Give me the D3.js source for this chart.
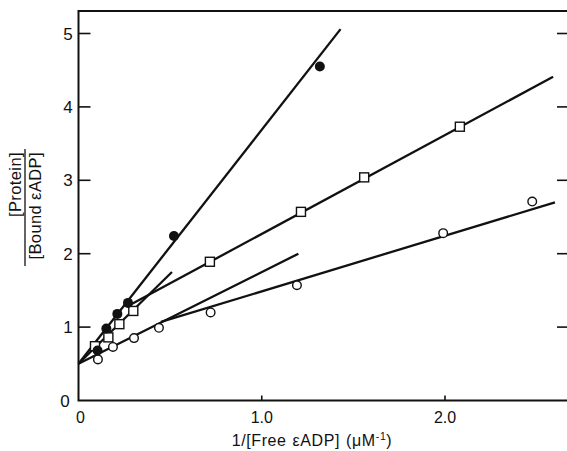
<!DOCTYPE html>
<html>
<head>
<meta charset="utf-8">
<script src="https://cdn.jsdelivr.net/npm/d3@7"></script>
<style>
  html, body { margin: 0; padding: 0; background: #fff; }
  svg { display: block; }
  text { font-family: "Liberation Sans", "DejaVu Sans", sans-serif; fill: #111; }
</style>
</head>
<body>
<script>
// ---- data ----
const filledX = [0.104, 0.152, 0.212, 0.27, 0.521, 1.317];
const filledY = [0.68, 0.98, 1.18, 1.33, 2.24, 4.55];
const squareX = [0.09, 0.163, 0.223, 0.299, 0.717, 1.214, 1.559, 2.081];
const squareY = [0.74, 0.86, 1.04, 1.22, 1.89, 2.57, 3.04, 3.73];
const openX = [0.106, 0.188, 0.303, 0.439, 0.721, 1.192, 1.99, 2.476];
const openY = [0.56, 0.73, 0.85, 0.99, 1.20, 1.57, 2.28, 2.71];
// fitted straight lines: [x1, y1, x2, y2]
const fitFilled = [0, 0.5, 1.43, 5.06];
const fitSquareLow = [0, 0.5, 0.51, 1.75];
const fitSquareHigh = [0.28, 1.30, 2.59, 4.41];
const fitOpenLow = [0, 0.5, 1.2, 2.0];
const fitOpenHigh = [0.45, 1.07, 2.6, 2.70];
const yTicks = [1, 2, 3, 4, 5];
const xTicks = [1.0, 2.0];
const xTickLabels = ["1.0", "2.0"];

const W = 567, H = 451;
const svg = d3.select("body").append("svg").attr("width", W).attr("height", H);

const x = d3.scaleLinear().domain([0, 2.0]).range([78.5, 445]);
const y = d3.scaleLinear().domain([0, 5]).range([400.5, 33.5]);
const frameTop = 11, frameRight = 568;

const ink = "#111";

// frame
svg.append("path")
  .attr("d", `M${frameRight},${frameTop}H${x(0)}V${y(0)}H${frameRight}`)
  .attr("fill", "none").attr("stroke", ink).attr("stroke-width", 2);

// y ticks (left, inward) and right ticks (inward)
yTicks.forEach(t => {
  svg.append("line").attr("x1", x(0)).attr("x2", x(0) + 12)
    .attr("y1", y(t)).attr("y2", y(t)).attr("stroke", ink).attr("stroke-width", 1.6);
  svg.append("line").attr("x1", 557).attr("x2", frameRight)
    .attr("y1", y(t)).attr("y2", y(t)).attr("stroke", ink).attr("stroke-width", 1.6);
  svg.append("text").attr("x", 68).attr("y", y(t) + 6)
    .attr("text-anchor", "middle").attr("font-size", 17).text(t);
});
svg.append("text").attr("x", 65).attr("y", 407).attr("text-anchor", "middle")
  .attr("font-size", 17).text("0");

// x ticks
xTicks.forEach((t, i) => {
  svg.append("line").attr("x1", x(t)).attr("x2", x(t))
    .attr("y1", y(0)).attr("y2", y(0) - 5).attr("stroke", ink).attr("stroke-width", 1.6);
  svg.append("text").attr("x", x(t)).attr("y", 423)
    .attr("text-anchor", "middle").attr("font-size", 16).text(xTickLabels[i]);
});
svg.append("text").attr("x", x(0) + 2).attr("y", 423).attr("text-anchor", "middle")
  .attr("font-size", 16).text("0");

// x title
const xt = svg.append("text").attr("x", 312).attr("y", 446)
  .attr("text-anchor", "middle").attr("font-size", 16).attr("letter-spacing", 0.6);
xt.append("tspan").text("1/[Free");
xt.append("tspan").attr("dx", 6).text("εADP]");
xt.append("tspan").attr("dx", 6).text("(μM");
xt.append("tspan").attr("font-size", 10.5).attr("dy", -6).text("-1");
xt.append("tspan").attr("dy", 6).text(")");

// y title (fraction, rotated)
const yt = svg.append("g");
yt.append("text").attr("transform", "translate(21,152) rotate(-90)")
  .attr("text-anchor", "end").attr("font-size", 16.5).attr("letter-spacing", 0.4)
  .text("[Protein]");
yt.append("line").attr("x1", 25).attr("x2", 25).attr("y1", 149).attr("y2", 266)
  .attr("stroke", ink).attr("stroke-width", 1.3);
const bt = yt.append("text").attr("transform", "translate(41,152) rotate(-90)")
  .attr("text-anchor", "end").attr("font-size", 16.5).attr("letter-spacing", 0.4);
bt.append("tspan").text("[Bound");
bt.append("tspan").attr("dx", 5).text("εADP]");

// fit lines
[fitFilled, fitSquareLow, fitSquareHigh, fitOpenLow, fitOpenHigh].forEach(f => {
  svg.append("line")
    .attr("x1", x(f[0])).attr("y1", y(f[1]))
    .attr("x2", x(f[2])).attr("y2", y(f[3]))
    .attr("stroke", ink).attr("stroke-width", 2.3).attr("stroke-linecap", "butt");
});

// open circles
svg.selectAll(".oc").data(d3.range(openX.length)).enter().append("circle")
  .attr("cx", i => x(openX[i])).attr("cy", i => y(openY[i])).attr("r", 4.3)
  .attr("fill", "#fff").attr("stroke", ink).attr("stroke-width", 1.4);

// squares
const s = 9;
svg.selectAll(".sq").data(d3.range(squareX.length)).enter().append("rect")
  .attr("x", i => x(squareX[i]) - s / 2).attr("y", i => y(squareY[i]) - s / 2)
  .attr("width", s).attr("height", s)
  .attr("fill", "#fff").attr("stroke", ink).attr("stroke-width", 1.4);

// filled circles
svg.selectAll(".fc").data(d3.range(filledX.length)).enter().append("circle")
  .attr("cx", i => x(filledX[i])).attr("cy", i => y(filledY[i])).attr("r", 5)
  .attr("fill", ink);
</script>
</body>
</html>
